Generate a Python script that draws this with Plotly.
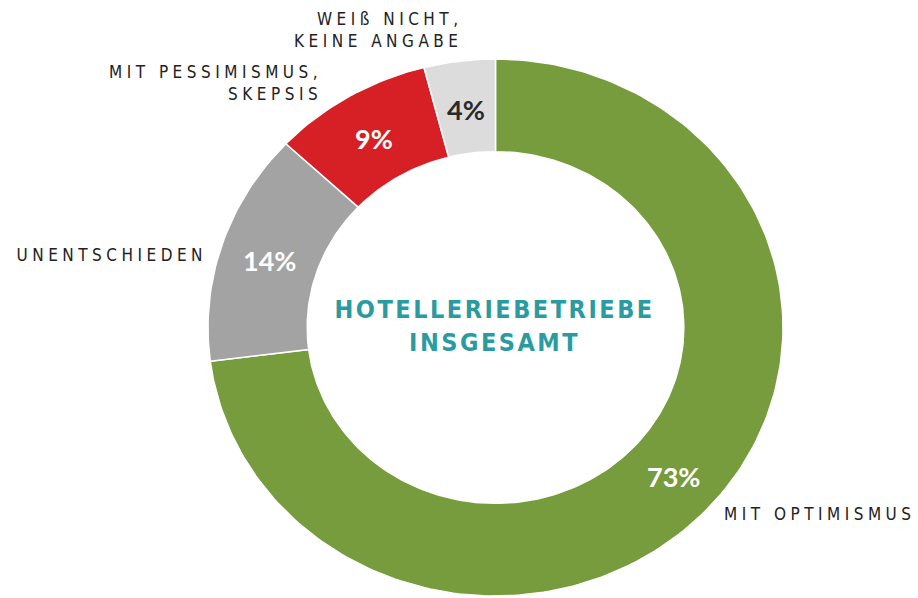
import math
import plotly.graph_objects as go

# Survey shares (percent), drawn clockwise from 12 o'clock
categories = ["MIT OPTIMISMUS", "UNENTSCHIEDEN", "MIT PESSIMISMUS,<br>SKEPSIS", "WEIß NICHT,<br>KEINE ANGABE"]
values = [73, 14, 9, 4]
slice_colors = ["#769C3E", "#A3A3A3", "#D71F26", "#DCDCDC"]
pct_colors = ["#FFFFFF", "#FFFFFF", "#FFFFFF", "#2A2A2A"]
title_lines = ["HOTELLERIEBETRIEBE", "INSGESAMT"]

# Canvas and ring geometry (pixel-like data units, y grows downward)
W, H = 918, 598
CX, CY = 495.5, 327.5
RX, RY = 287.5, 268.5
HOLE = 0.655

# Category label placement: (x, y, xanchor)
label_pos = [
    (722, 514, "left"),
    (209, 255, "right"),
    (324, 83, "right"),
    (465, 30, "right"),
]

LABEL_FONT = "Liberation Sans Narrow, DejaVu Sans Condensed, Arial Narrow, sans-serif"
PCT_FONT = "Lato, Open Sans, sans-serif"
TITLE_FONT = "Liberation Sans Narrow, DejaVu Sans Condensed, sans-serif"


def ring_point(angle, r):
    return CX + r * RX * math.sin(angle), CY - r * RY * math.cos(angle)


fig = go.Figure()
total = float(sum(values))
acc = 0.0
annotations = []
for cat, v, col, pcol in zip(categories, values, slice_colors, pct_colors):
    a0 = acc / total * 2 * math.pi
    a1 = (acc + v) / total * 2 * math.pi
    acc += v
    n = max(int(v * 3), 12)
    angles = [a0 + (a1 - a0) * i / n for i in range(n + 1)]
    outer = [ring_point(a, 1.0) for a in angles]
    inner = [ring_point(a, HOLE) for a in reversed(angles)]
    pts = outer + inner + [outer[0]]
    fig.add_trace(go.Scatter(
        x=[p[0] for p in pts], y=[p[1] for p in pts],
        mode="lines", fill="toself", fillcolor=col,
        line=dict(color="white", width=1.5),
        hoverinfo="skip", showlegend=False, name=cat.replace("<br>", " "),
    ))
    mid = (a0 + a1) / 2
    mx, my = ring_point(mid, (1 + HOLE) / 2)
    annotations.append(dict(
        x=mx, y=my + 2, xref="x", yref="y", text=f"<b>{v}%</b>", showarrow=False,
        font=dict(family=PCT_FONT, size=27, color=pcol),
        xanchor="center", yanchor="middle",
    ))

for cat, (lx, ly, anchor) in zip(categories, label_pos):
    annotations.append(dict(
        x=lx, y=ly, xref="x", yref="y", text=cat, showarrow=False,
        font=dict(family=LABEL_FONT, size=17, color="#222222"),
        xanchor=anchor, yanchor="middle", align=anchor,
    ))

annotations.append(dict(
    x=CX - 1, y=CY - 2, xref="x", yref="y",
    text="<b>" + "<br>".join(title_lines) + "</b>", showarrow=False,
    font=dict(family=TITLE_FONT, size=25, color="#2A9BA1"),
    xanchor="center", yanchor="middle", align="center",
))

fig.update_layout(
    width=W, height=H,
    margin=dict(l=0, r=0, t=0, b=0),
    paper_bgcolor="white", plot_bgcolor="white",
    xaxis=dict(range=[0, W], visible=False, fixedrange=True),
    yaxis=dict(range=[H, 0], visible=False, fixedrange=True),
    annotations=annotations,
    showlegend=False,
)

# Widen the tracking of the small caps labels and the centre title
tracking_js = """
document.querySelectorAll('.annotation-text').forEach(function(t){
  var fs = parseFloat(t.style.fontSize);
  if (fs < 20) { t.style.letterSpacing = '4.5px'; }
  else if (fs < 26) { t.style.letterSpacing = '2.5px'; }
});
"""

fig.write_html("out.html", config={"displayModeBar": False}, post_script=tracking_js)
